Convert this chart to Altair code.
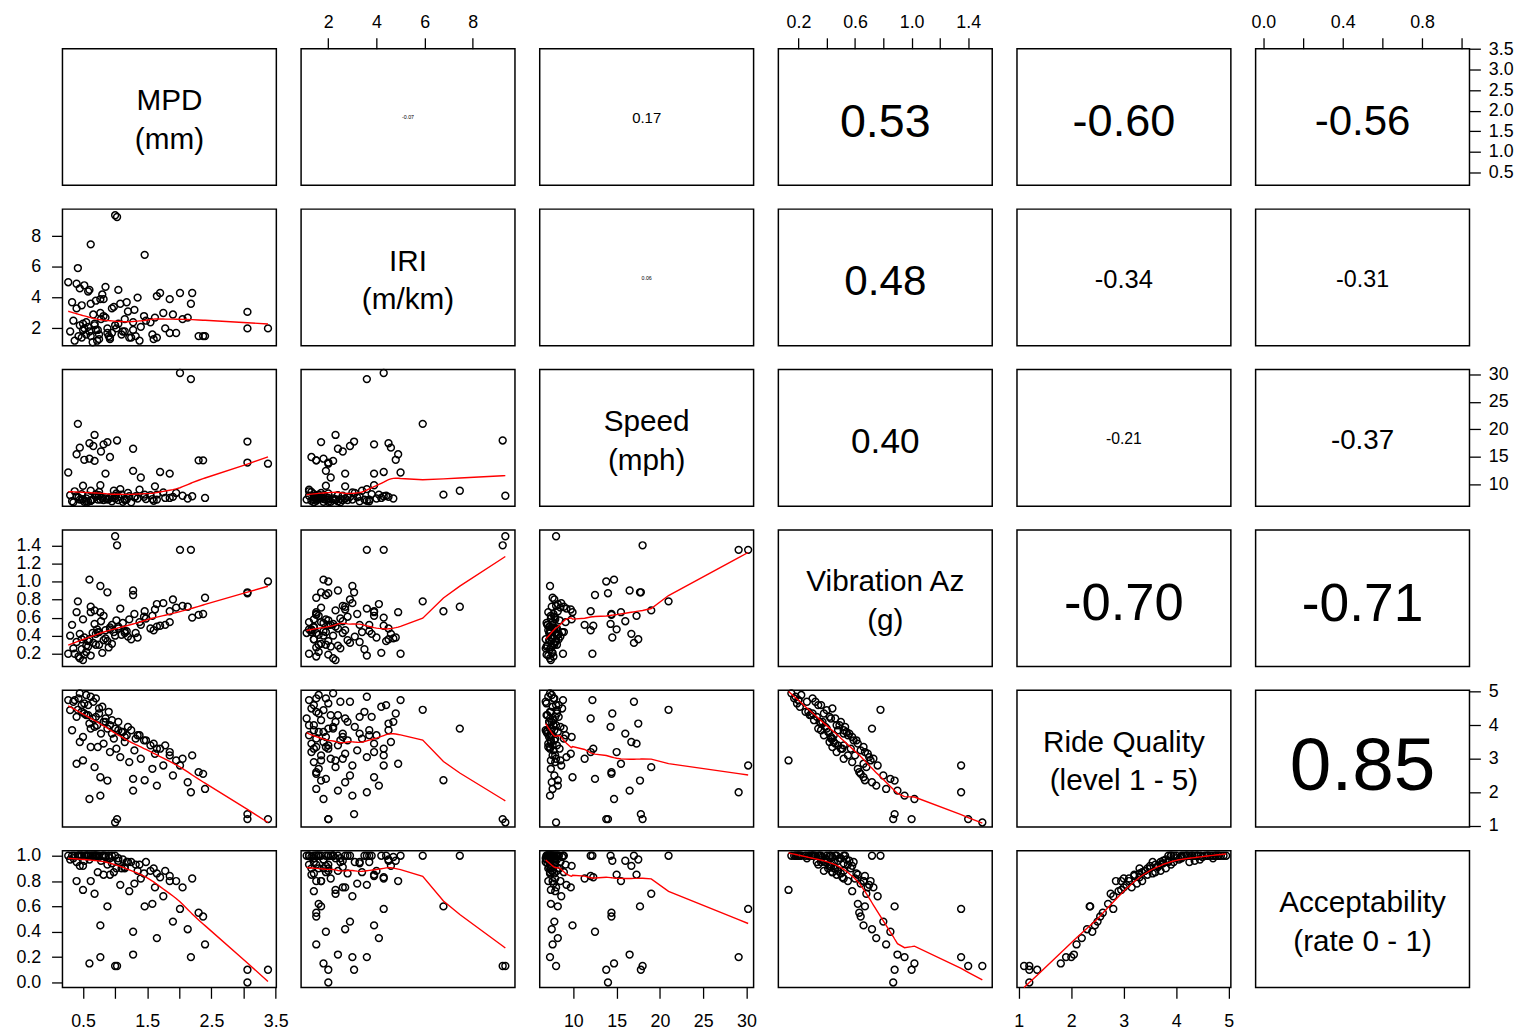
import json
import altair as alt
import pandas as pd

# ---------------- data ----------------
mpd = [1.00, 1.03, 2.01, 2.18, 3.06, 3.06, 3.38, 0.62, 1.46, 0.42,
       0.45, 0.55, 0.62, 0.70, 0.35, 0.48, 0.80, 0.30, 0.66, 0.90,
       0.52, 0.58, 0.75, 0.40, 0.85, 0.95, 1.05, 0.60, 0.72, 1.20,
       0.88, 0.33, 1.10, 0.78, 1.35, 0.50, 0.98, 1.25, 0.68, 1.45,
       1.15, 0.82, 1.55, 0.62, 1.70, 1.02, 1.30, 0.92, 1.62, 0.45,
       1.85, 1.08, 1.40, 0.73, 2.05, 1.22, 0.40, 1.75, 0.27, 1.58,
       0.68, 2.30, 0.37, 1.90, 0.77, 1.28, 2.13, 0.88, 1.65, 2.40,
       0.77, 1.28, 0.60, 0.55, 0.65, 0.82, 0.92, 1.00, 1.12, 1.18,
       1.32, 1.48, 1.60, 1.78, 0.48, 0.58, 0.70, 0.85, 0.95, 1.05,
       1.15, 0.75, 0.52, 0.43, 1.38, 1.65, 1.85, 2.20, 1.95, 2.37,
       0.50]
iri = [9.35, 9.24, 4.30, 3.60, 3.07, 2.00, 2.00, 7.46, 6.78, 5.92,
       2.2, 1.6, 3.6, 1.9, 2.5, 1.4, 4.2, 1.8, 2.9, 1.5,
       4.8, 2.1, 1.3, 3.3, 2.7, 1.7, 2.3, 4.5, 1.2, 3.1,
       2.0, 3.7, 1.6, 2.6, 4.0, 1.9, 3.4, 1.4, 2.2, 2.8,
       1.8, 3.9, 2.4, 1.5, 4.3, 2.0, 3.2, 1.3, 2.7, 4.6,
       1.7, 3.6, 2.1, 1.9, 2.6, 1.4, 4.9, 3.0, 5.0, 1.6,
       2.3, 1.5, 1.2, 2.9, 3.9, 1.9, 2.7, 1.7, 4.1, 1.5,
       3.0, 2.4, 1.8, 2.4, 1.1, 2.8, 1.4, 2.2, 1.8, 3.7,
       1.5, 2.5, 1.3, 2.0, 3.5, 4.4, 3.8, 4.7, 3.3, 4.5,
       2.6, 1.6, 2.0, 1.5, 1.2, 1.4, 3.9, 4.3, 1.7, 1.5,
       2.3]
speed = [8.0, 18.0, 30.2, 29.1, 17.8, 14.0, 13.8, 8.9, 8.2, 21.0,
         7.3, 7.5, 7.1, 7.8, 6.8, 8.3, 7.6, 8.1, 17.0, 7.4,
         14.5, 6.9, 8.7, 7.9, 12.0, 7.7, 7.2, 17.5, 8.0, 8.5,
         7.3, 7.0, 8.2, 16.0, 7.5, 9.8, 8.9, 6.8, 14.3, 7.8,
         7.4, 17.3, 8.1, 7.1, 12.3, 8.4, 7.7, 15.0, 9.7, 16.7,
         7.6, 9.2, 11.3, 7.3, 8.0, 7.9, 15.5, 8.6, 12.2, 7.4,
         19.0, 14.4, 8.8, 7.8, 9.9, 12.5, 7.5, 17.7, 8.2, 7.6,
         7.3, 16.5, 14.7, 7.0, 7.3, 7.2, 7.7, 7.5, 6.9, 7.3,
         7.9, 7.4, 7.1, 7.6, 7.3, 8.0, 8.3, 7.5, 7.0, 7.8,
         7.2, 8.1, 6.9, 7.7, 9.1, 7.3, 12.0, 7.9, 8.5, 14.4,
         7.4]
vib = [1.50, 1.40, 1.35, 1.35, 0.88, 0.87, 1.00, 0.72, 0.67, 0.78,
       0.15, 0.22, 0.18, 0.30, 0.26, 0.36, 0.21, 0.40, 0.32, 0.27,
       0.38, 0.28, 0.44, 0.33, 0.46, 0.31, 0.50, 0.36, 0.47, 0.39,
       0.34, 0.52, 0.41, 0.56, 0.38, 0.58, 0.44, 0.36, 0.53, 0.61,
       0.45, 0.62, 0.48, 0.66, 0.51, 0.57, 0.64, 0.47, 0.69, 0.42,
       0.55, 0.70, 0.52, 0.44, 0.73, 0.58, 0.66, 0.76, 0.20, 0.62,
       0.68, 0.63, 0.20, 0.80, 0.66, 0.85, 0.72, 0.88, 0.75, 0.82,
       0.95, 0.90, 1.02, 0.29, 0.43, 0.35, 0.49, 0.40, 0.54, 0.45,
       0.43, 0.59, 0.46, 0.52, 0.25, 0.34, 0.42, 0.37, 0.52, 0.48,
       0.43, 0.30, 0.19, 0.17, 0.55, 0.50, 0.67, 0.60, 0.71, 0.64,
       0.13]
rq = [1.10, 1.20, 2.80, 2.00, 1.35, 1.20, 1.20, 3.90, 2.36, 4.46,
      4.95, 4.90, 4.85, 4.80, 4.70, 4.60, 4.55, 4.45, 4.70, 4.40,
      4.35, 4.30, 4.50, 4.25, 4.20, 4.15, 4.10, 4.05, 4.00, 3.95,
      3.90, 3.85, 3.80, 3.75, 3.70, 3.65, 3.60, 3.85, 3.95, 3.55,
      3.50, 3.45, 3.40, 3.35, 3.30, 3.30, 3.25, 3.20, 3.15, 3.50,
      3.10, 3.05, 3.00, 3.35, 3.00, 2.90, 2.85, 2.80, 4.75, 2.70,
      2.75, 2.60, 4.75, 2.50, 2.45, 2.40, 2.30, 2.35, 2.20, 2.10,
      1.90, 2.05, 1.80, 4.30, 4.20, 4.10, 4.00, 3.90, 3.80, 3.70,
      3.60, 3.55, 3.45, 3.40, 4.40, 4.60, 4.25, 4.10, 3.75, 3.85,
      3.65, 4.35, 4.65, 4.80, 3.70, 3.30, 3.20, 3.10, 2.95, 2.55,
      2.95]
acc = [0.13, 0.13, 0.58, 0.20, 0.10, 0.00, 0.10, 1.00, 0.60, 1.00,
       1.00, 1.00, 1.00, 1.00, 0.98, 1.00, 1.00, 0.97, 1.00, 1.00,
       0.96, 1.00, 0.99, 0.95, 1.00, 1.00, 0.98, 0.97, 1.00, 0.95,
       0.93, 1.00, 0.90, 0.96, 0.88, 0.92, 0.87, 0.95, 1.00, 0.86,
       0.90, 0.85, 0.88, 0.80, 0.83, 0.90, 0.78, 0.85, 0.75, 0.92,
       0.80, 0.77, 0.82, 0.87, 0.75, 0.72, 0.80, 0.68, 1.00, 0.62,
       0.70, 0.55, 1.00, 0.48, 0.45, 0.40, 0.42, 0.60, 0.35, 0.30,
       0.20, 0.22, 0.15, 1.00, 1.00, 1.00, 0.98, 1.00, 0.97, 0.95,
       0.93, 0.95, 0.90, 0.88, 1.00, 1.00, 1.00, 0.99, 0.94, 0.96,
       0.91, 1.00, 1.00, 1.00, 0.93, 0.86, 0.84, 0.82, 0.80, 0.52,
       0.73]

cols = ["MPD", "IRI", "Speed", "Vib", "RQ", "Acc"]
diag_labels = ["MPD\n(mm)", "IRI\n(m/km)", "Speed\n(mph)", "Vibration Az\n(g)",
               "Ride Quality\n(level 1 - 5)", "Acceptability\n(rate 0 - 1)"]
cor_text = [
    ["", "-0.07", "0.17", "0.53", "-0.60", "-0.56"],
    ["", "", "0.06", "0.48", "-0.34", "-0.31"],
    ["", "", "", "0.40", "-0.21", "-0.37"],
    ["", "", "", "", "-0.70", "-0.71"],
    ["", "", "", "", "", "0.85"],
]
tick_values = {
    "MPD": [0.5, 1.0, 1.5, 2.0, 2.5, 3.0, 3.5],
    "IRI": [2, 4, 6, 8],
    "Speed": [10, 15, 20, 25, 30],
    "Vib": [0.2, 0.4, 0.6, 0.8, 1.0, 1.2, 1.4],
    "RQ": [1, 2, 3, 4, 5],
    "Acc": [0.0, 0.2, 0.4, 0.6, 0.8, 1.0],
}
x_label_subset = {
    "MPD": ["0.5", "1.5", "2.5", "3.5"],
    "Vib": ["0.2", "0.6", "1.0", "1.4"],
    "Acc": ["0.0", "0.4", "0.8"],
}
tick_format = {"MPD": ".1f", "IRI": "d", "Speed": "d", "Vib": ".1f", "RQ": "d", "Acc": ".1f"}
domains = {
    "MPD": [0.18, 3.51],
    "IRI": [0.87, 9.75],
    "Speed": [6.11, 30.83],
    "Vib": [0.058, 1.570],
    "RQ": [0.965, 5.04],
    "Acc": [-0.039, 1.039],
}

# ---------------- layout / style ----------------
PW, PH = 216, 138
FONT = "Liberation Sans"
EM = {"-": 0.333, ".": 0.278}


def text_em_width(s):
    return sum(EM.get(c, 0.556) for c in s)


df = pd.DataFrame({"MPD": mpd, "IRI": iri, "Speed": speed, "Vib": vib, "RQ": rq, "Acc": acc})


def axis_for(var, orient):
    is_x = orient in ("top", "bottom")
    pad = {"top": 6, "bottom": 14, "left": 11, "right": 8}[orient]
    kw = dict(orient=orient, values=tick_values[var], format=tick_format[var], title=None,
              domain=False, grid=False, ticks=True, tickSize=11, tickWidth=1.3, tickColor="black",
              labelFontSize=18, labelFont=FONT, labelColor="black", labelPadding=pad,
              labelOverlap=False, labelFlush=False, labelBound=False, labelAngle=0)
    if is_x and var in x_label_subset:
        kw["labelExpr"] = ("indexof(" + json.dumps(x_label_subset[var]) +
                           ", datum.label) >= 0 ? datum.label : ''")
    return alt.Axis(**kw)


panels = []
for i, vi in enumerate(cols):
    for j, vj in enumerate(cols):
        xo = "top" if (i == 0 and j % 2 == 1) else ("bottom" if (i == 5 and j % 2 == 0) else None)
        yo = "left" if (j == 0 and i % 2 == 1) else ("right" if (j == 5 and i % 2 == 0) else None)
        xenc = alt.X(f"{vj}:Q", scale=alt.Scale(domain=domains[vj], nice=False, zero=False),
                     axis=axis_for(vj, xo) if xo else None)
        yenc = alt.Y(f"{vi}:Q", scale=alt.Scale(domain=domains[vi], nice=False, zero=False),
                     axis=axis_for(vi, yo) if yo else None)
        layers = []
        if i > j:
            layers.append(alt.Chart(df).mark_point(shape="circle", filled=False, color="black",
                                                   size=48, strokeWidth=1.5, opacity=1)
                          .encode(x=xenc, y=yenc))
            layers.append(alt.Chart(df).transform_loess(vj, vi, bandwidth=0.67)
                          .mark_line(color="red", strokeWidth=1.4)
                          .encode(x=xenc, y=yenc))
        else:
            if xo or yo:
                layers.append(alt.Chart(df).mark_point(opacity=0).encode(x=xenc, y=yenc))
            if i == j:
                txt = diag_labels[i]
                mk = dict(fontSize=30, baseline="middle", lineBreak="\n", lineHeight=39)
                yy = 53
            else:
                txt = cor_text[i][j]
                fs = 0.8 * abs(float(txt)) * PW / text_em_width(txt)
                mk = dict(fontSize=fs, baseline="alphabetic")
                yy = PH / 2 + 0.418 * fs
            layers.append(alt.Chart(alt.Data(values=[{"t": txt}]))
                          .mark_text(font=FONT, color="black", align="center", **mk)
                          .encode(text="t:N", x=alt.value(PW / 2), y=alt.value(yy)))
        panels.append(alt.layer(*layers).properties(width=PW, height=PH))

chart = (alt.concat(*panels, columns=6, spacing={"row": 24, "column": 25}, bounds="flush")
         .properties(background="white", padding={"left": 7, "top": 0, "right": 5, "bottom": 5})
         .configure_view(stroke="black", strokeWidth=1.5))

chart.save("out.html", embed_options={"renderer": "svg", "actions": False})
